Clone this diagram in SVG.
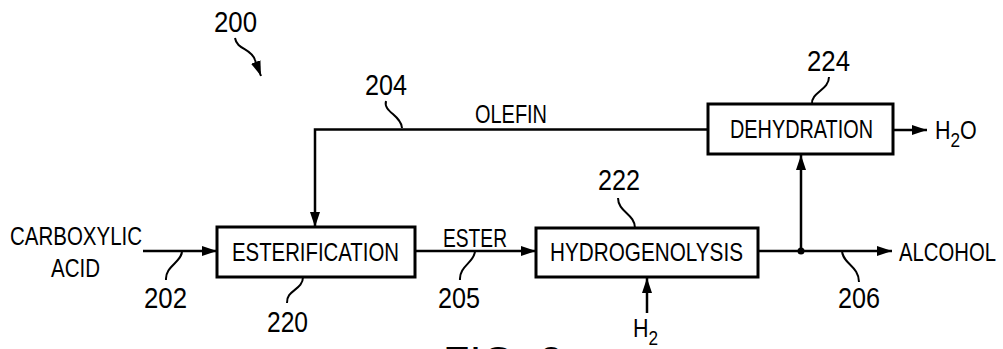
<svg xmlns="http://www.w3.org/2000/svg" width="1003" height="349" viewBox="0 0 1003 349">
<style>
text{font-family:"Liberation Sans",Arial,sans-serif;fill:#000}
.lbl{font-size:25px}
.sub{font-size:20px}
.num{font-size:29px}
.box{fill:#fff;stroke:#000;stroke-width:3}
.ln{fill:none;stroke:#000;stroke-width:2.5}
.ld{fill:none;stroke:#000;stroke-width:2}
</style>
<defs>
<marker id="ah" markerUnits="userSpaceOnUse" markerWidth="16" markerHeight="12" refX="15" refY="5" orient="auto">
<path d="M0,0 L15,5 L0,10 Z" fill="#000"/>
</marker>
</defs>
<g id="fig-ref">
<text class="num" x="214" y="32" textLength="43" lengthAdjust="spacingAndGlyphs">200</text>
<path class="ld" d="M235,38 C237,50 251,48 255,60 L261,76" marker-end="url(#ah)"/>
</g>
<g id="connectors">
<path class="ln" d="M143,251 L217,251" marker-end="url(#ah)"/>
<path class="ln" d="M415,251 L536,251" marker-end="url(#ah)"/>
<path class="ln" d="M758,251 L892,251" marker-end="url(#ah)"/>
<path class="ln" d="M801,251 L801,155" marker-end="url(#ah)"/>
<circle cx="801" cy="251" r="3.5" fill="#000"/>
<path class="ln" d="M708,129.5 L315,129.5 L315,227" marker-end="url(#ah)"/>
<path class="ln" d="M893,130 L927,130" marker-end="url(#ah)"/>
<path class="ln" d="M647,313 L647,278" marker-end="url(#ah)"/>
<path class="ld" d="M182,251 C182,262 165,266 166,280"/>
<path class="ld" d="M475,251 C475,262 459,266 460,280"/>
<path class="ld" d="M842,251 C843,264 859,266 859,282"/>
<path class="ld" d="M386,101 C383,112 401,115 402,128"/>
<path class="ld" d="M303,277 C303,290 286,290 287,303"/>
<path class="ld" d="M635,228 C635,214 618,212 618,198"/>
<path class="ld" d="M812,104 C811,92 829,90 829,77"/>
<text class="lbl" x="475" y="123" textLength="72" lengthAdjust="spacingAndGlyphs">OLEFIN</text>
<text class="lbl" x="443" y="247" textLength="64" lengthAdjust="spacingAndGlyphs">ESTER</text>
<text class="num" x="365" y="95" textLength="42" lengthAdjust="spacingAndGlyphs">204</text>
<text class="num" x="144" y="308" textLength="43" lengthAdjust="spacingAndGlyphs">202</text>
<text class="num" x="438" y="308" textLength="42" lengthAdjust="spacingAndGlyphs">205</text>
<text class="num" x="838" y="308" textLength="42" lengthAdjust="spacingAndGlyphs">206</text>
</g>
<g id="carboxylic-acid">
<text class="lbl" x="10" y="245" textLength="132" lengthAdjust="spacingAndGlyphs">CARBOXYLIC</text>
<text class="lbl" x="51" y="277" textLength="49" lengthAdjust="spacingAndGlyphs">ACID</text>
</g>
<g id="esterification">
<rect class="box" x="217" y="227" width="198" height="50"/>
<text class="lbl" x="232" y="261" textLength="167" lengthAdjust="spacingAndGlyphs">ESTERIFICATION</text>
<text class="num" x="267" y="332" textLength="41" lengthAdjust="spacingAndGlyphs">220</text>
</g>
<g id="hydrogenolysis">
<rect class="box" x="536" y="228" width="222" height="49"/>
<text class="lbl" x="550" y="261" textLength="193" lengthAdjust="spacingAndGlyphs">HYDROGENOLYSIS</text>
<text class="num" x="598" y="190" textLength="42" lengthAdjust="spacingAndGlyphs">222</text>
</g>
<g id="dehydration">
<rect class="box" x="708" y="104" width="185" height="50"/>
<text class="lbl" x="730" y="138" textLength="143" lengthAdjust="spacingAndGlyphs">DEHYDRATION</text>
<text class="num" x="807" y="71" textLength="43" lengthAdjust="spacingAndGlyphs">224</text>
</g>
<g id="h2o">
<text class="lbl" transform="translate(935,139) scale(0.86,1)">H<tspan class="sub" dy="8">2</tspan><tspan dy="-8">O</tspan></text>
</g>
<g id="h2">
<text class="lbl" transform="translate(633,337) scale(0.86,1)">H<tspan class="sub" dy="8">2</tspan></text>
</g>
<g id="alcohol">
<text class="lbl" x="899" y="261" textLength="97" lengthAdjust="spacingAndGlyphs">ALCOHOL</text>
</g>
<g id="caption">
<text x="443" y="378" font-family="'Liberation Serif',serif" font-size="44" textLength="120" lengthAdjust="spacingAndGlyphs">FIG. 2</text>
</g>
</svg>
